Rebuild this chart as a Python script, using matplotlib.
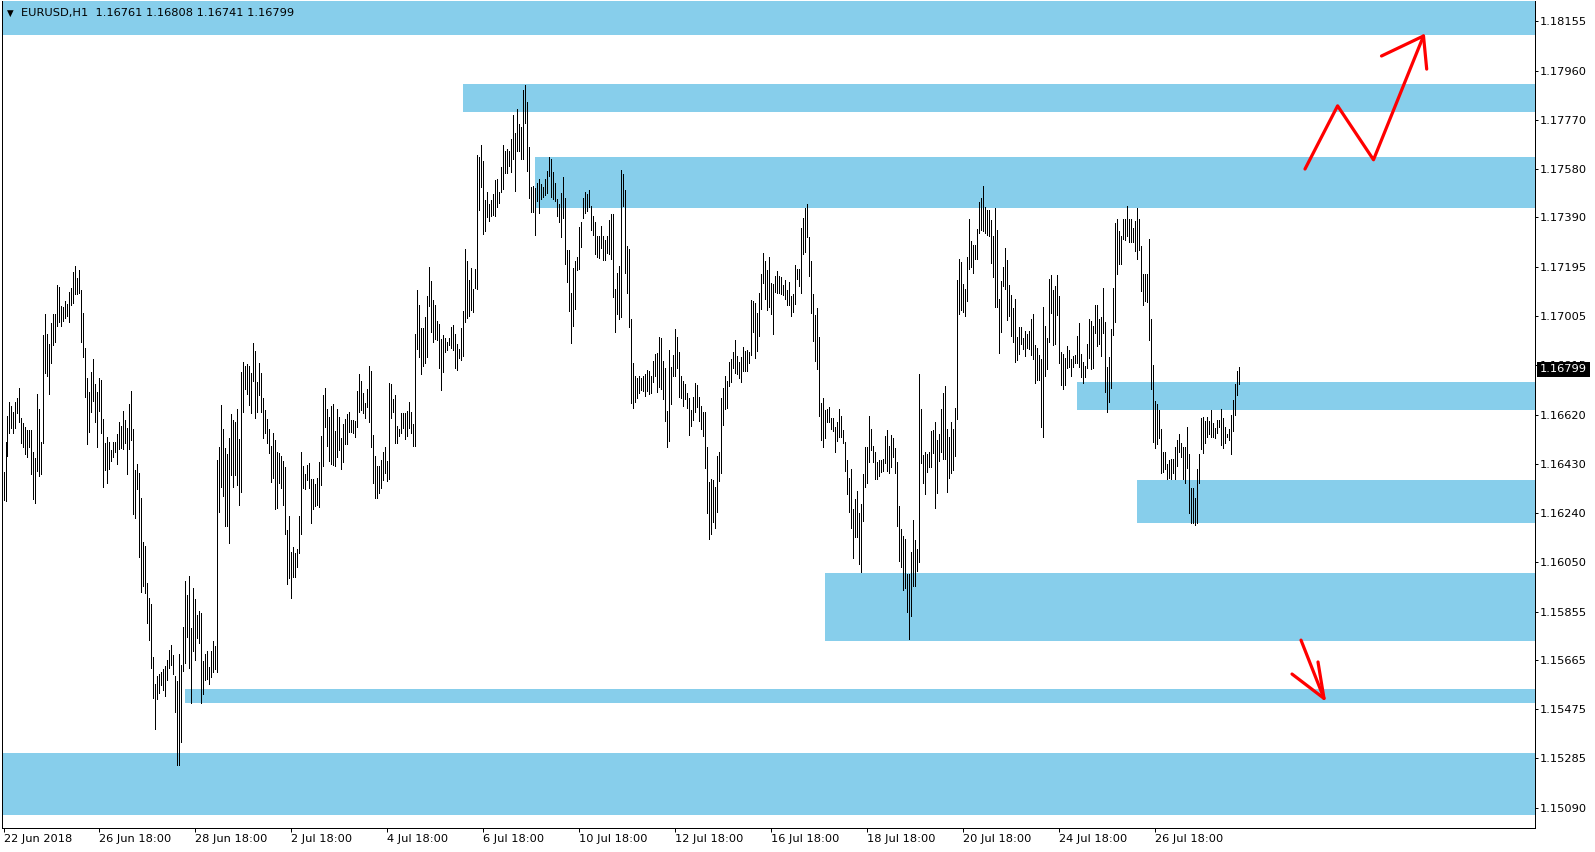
import matplotlib
matplotlib.use("Agg")
import matplotlib.pyplot as plt
import matplotlib.transforms as mtransforms
from matplotlib.patches import Rectangle
import numpy as np

matplotlib.rcParams["font.family"] = "DejaVu Sans"

W, H, DPI = 1595, 852, 100

# ── EURUSD H1 bars, one value per hour ──
highs = [
    1.16400, 1.16514, 1.16617, 1.16671, 1.16656, 1.16631, 1.16671, 1.16687, 1.16726, 1.16608,
    1.16591, 1.16574, 1.16562, 1.16562, 1.16562, 1.16477, 1.16453, 1.16702, 1.16644, 1.16514,
    1.16932, 1.17014, 1.16936, 1.16897, 1.16979, 1.17014, 1.17014, 1.17127, 1.17119, 1.17045,
    1.17042, 1.17064, 1.17051, 1.17101, 1.17114, 1.17179, 1.17201, 1.17155, 1.17185, 1.17107,
    1.17019, 1.16883, 1.16766, 1.16708, 1.16789, 1.16839, 1.16741, 1.16711, 1.16766, 1.16757,
    1.16605, 1.16510, 1.16534, 1.16516, 1.16484, 1.16514, 1.16514, 1.16545, 1.16595, 1.16579,
    1.16636, 1.16601, 1.16569, 1.16663, 1.16715, 1.16567, 1.16407, 1.16430, 1.16396, 1.16299,
    1.16126, 1.16111, 1.15968, 1.15907, 1.15886, 1.15680, 1.15573, 1.15605, 1.15612, 1.15621,
    1.15633, 1.15643, 1.15667, 1.15707, 1.15725, 1.15686, 1.15605, 1.15586, 1.15690, 1.15647,
    1.15797, 1.15974, 1.15920, 1.15994, 1.15793, 1.15948, 1.15906, 1.15842, 1.15858, 1.15849,
    1.15664, 1.15690, 1.15703, 1.15641, 1.15700, 1.15740, 1.15720, 1.16445, 1.16497, 1.16660,
    1.16566, 1.16492, 1.16469, 1.16530, 1.16625, 1.16601, 1.16593, 1.16644, 1.16527, 1.16789,
    1.16826, 1.16811, 1.16818, 1.16811, 1.16784, 1.16900, 1.16870, 1.16747, 1.16823, 1.16784,
    1.16686, 1.16640, 1.16605, 1.16567, 1.16501, 1.16551, 1.16523, 1.16477, 1.16471, 1.16461,
    1.16443, 1.16418, 1.16173, 1.16227, 1.16087, 1.16108, 1.16085, 1.16098, 1.16227, 1.16477,
    1.16422, 1.16391, 1.16426, 1.16432, 1.16372, 1.16372, 1.16352, 1.16374, 1.16439, 1.16539,
    1.16698, 1.16727, 1.16644, 1.16614, 1.16656, 1.16662, 1.16558, 1.16644, 1.16612, 1.16532,
    1.16587, 1.16605, 1.16625, 1.16631, 1.16601, 1.16601, 1.16597, 1.16714, 1.16780, 1.16753,
    1.16705, 1.16669, 1.16722, 1.16811, 1.16792, 1.16543, 1.16461, 1.16422, 1.16422, 1.16445,
    1.16477, 1.16495, 1.16442, 1.16744, 1.16741, 1.16684, 1.16698, 1.16578, 1.16565, 1.16627,
    1.16627, 1.16627, 1.16636, 1.16670, 1.16634, 1.16586, 1.16936, 1.17107, 1.17049, 1.16961,
    1.16958, 1.17000, 1.17084, 1.17196, 1.17142, 1.17068, 1.17049, 1.16987, 1.16974, 1.16917,
    1.16932, 1.16922, 1.16904, 1.16922, 1.16962, 1.16969, 1.16936, 1.16896, 1.16878, 1.16958,
    1.17026, 1.17266, 1.17220, 1.17146, 1.17192, 1.17110, 1.17188, 1.17633, 1.17623, 1.17672,
    1.17610, 1.17458, 1.17488, 1.17442, 1.17458, 1.17480, 1.17536, 1.17540, 1.17488, 1.17585,
    1.17672, 1.17649, 1.17656, 1.17649, 1.17694, 1.17789, 1.17717, 1.17812, 1.17752, 1.17743,
    1.17886, 1.17906, 1.17838, 1.17662, 1.17507, 1.17510, 1.17503, 1.17523, 1.17538, 1.17520,
    1.17507, 1.17540, 1.17571, 1.17623, 1.17617, 1.17565, 1.17523, 1.17462, 1.17442, 1.17486,
    1.17546, 1.17467, 1.17263, 1.17261, 1.17094, 1.17194, 1.17218, 1.17237, 1.17354, 1.17371,
    1.17467, 1.17488, 1.17481, 1.17497, 1.17434, 1.17397, 1.17370, 1.17318, 1.17318, 1.17358,
    1.17318, 1.17302, 1.17318, 1.17380, 1.17402, 1.17403, 1.17111, 1.17172, 1.17201, 1.17575,
    1.17560, 1.17496, 1.17278, 1.17267, 1.16994, 1.16824, 1.16772, 1.16766, 1.16772, 1.16763,
    1.16772, 1.16780, 1.16796, 1.16792, 1.16772, 1.16831, 1.16858, 1.16863, 1.16925, 1.16919,
    1.16831, 1.16805, 1.16636, 1.16874, 1.16806, 1.16854, 1.16955, 1.16925, 1.16864, 1.16772,
    1.16754, 1.16741, 1.16707, 1.16685, 1.16640, 1.16689, 1.16744, 1.16737, 1.16692, 1.16655,
    1.16631, 1.16631, 1.16497, 1.16361, 1.16371, 1.16367, 1.16341, 1.16462, 1.16478, 1.16685,
    1.16724, 1.16772, 1.16753, 1.16828, 1.16839, 1.16864, 1.16912, 1.16850, 1.16828, 1.16848,
    1.16884, 1.16870, 1.16874, 1.16864, 1.17068, 1.17064, 1.17055, 1.17019, 1.17094, 1.17169,
    1.17250, 1.17221, 1.17185, 1.17234, 1.17136, 1.17130, 1.17162, 1.17181, 1.17162, 1.17156,
    1.17127, 1.17146, 1.17107, 1.17137, 1.17084, 1.17092, 1.17204, 1.17187, 1.17189, 1.17347,
    1.17389, 1.17425, 1.17442, 1.17315, 1.17221, 1.17092, 1.17010, 1.17038, 1.16925, 1.16668,
    1.16685, 1.16640, 1.16644, 1.16650, 1.16610, 1.16610, 1.16575, 1.16594, 1.16644, 1.16616,
    1.16562, 1.16516, 1.16445, 1.16376, 1.16410, 1.16254, 1.16293, 1.16324, 1.16240, 1.16274,
    1.16391, 1.16497, 1.16497, 1.16616, 1.16566, 1.16500, 1.16475, 1.16436, 1.16445, 1.16445,
    1.16449, 1.16538, 1.16562, 1.16500, 1.16542, 1.16532, 1.16493, 1.16436, 1.16266, 1.16176,
    1.16149, 1.16136, 1.16001, 1.16001, 1.16086, 1.16212, 1.16134, 1.16097, 1.16780, 1.16644,
    1.16464, 1.16477, 1.16468, 1.16477, 1.16559, 1.16562, 1.16592, 1.16523, 1.16545, 1.16644,
    1.16707, 1.16733, 1.16564, 1.16536, 1.16592, 1.16566, 1.16649, 1.17146, 1.17227, 1.17215,
    1.17130, 1.17111, 1.17237, 1.17382, 1.17299, 1.17282, 1.17282, 1.17344, 1.17451, 1.17464,
    1.17512, 1.17431, 1.17418, 1.17418, 1.17379, 1.17317, 1.17427, 1.17340, 1.17072, 1.17142,
    1.17198, 1.17269, 1.17224, 1.17126, 1.17087, 1.17038, 1.17072, 1.16925, 1.16964, 1.16964,
    1.16921, 1.16947, 1.16934, 1.16948, 1.16994, 1.17013, 1.16893, 1.16880, 1.16854, 1.16838,
    1.17042, 1.16967, 1.16921, 1.17150, 1.17165, 1.17107, 1.17122, 1.17165, 1.17083, 1.16864,
    1.16858, 1.16843, 1.16890, 1.16873, 1.16837, 1.16851, 1.16854, 1.16929, 1.16979, 1.16856,
    1.16828, 1.16812, 1.16896, 1.16994, 1.16987, 1.16967, 1.17048, 1.17048, 1.16996, 1.17003,
    1.17113, 1.16983, 1.16808, 1.16845, 1.16954, 1.17116, 1.17366, 1.17382, 1.17336, 1.17318,
    1.17382, 1.17382, 1.17434, 1.17382, 1.17382, 1.17349, 1.17375, 1.17425, 1.17382, 1.17279,
    1.17169, 1.17169, 1.17169, 1.17305, 1.16994, 1.16815, 1.16676, 1.16663, 1.16640, 1.16566,
    1.16475, 1.16475, 1.16428, 1.16445, 1.16448, 1.16448, 1.16497, 1.16523, 1.16546, 1.16510,
    1.16494, 1.16497, 1.16572, 1.16467, 1.16337, 1.16337, 1.16298, 1.16412, 1.16468, 1.16610,
    1.16614, 1.16597, 1.16614, 1.16598, 1.16640, 1.16590, 1.16571, 1.16601, 1.16601, 1.16643,
    1.16610, 1.16572, 1.16546, 1.16566, 1.16620, 1.16680, 1.16740, 1.16790, 1.16808,
]
lows = [
    1.16290, 1.16287, 1.16462, 1.16552, 1.16571, 1.16552, 1.16571, 1.16627, 1.16595, 1.16510,
    1.16495, 1.16468, 1.16456, 1.16497, 1.16390, 1.16292, 1.16279, 1.16403, 1.16384, 1.16390,
    1.16510, 1.16785, 1.16774, 1.16704, 1.16821, 1.16894, 1.16906, 1.16965, 1.16981, 1.16967,
    1.16988, 1.16997, 1.17007, 1.16984, 1.17049, 1.17055, 1.17092, 1.17090, 1.17094, 1.16906,
    1.16845, 1.16689, 1.16506, 1.16556, 1.16634, 1.16676, 1.16595, 1.16495, 1.16636, 1.16552,
    1.16342, 1.16407, 1.16355, 1.16409, 1.16443, 1.16455, 1.16477, 1.16431, 1.16488, 1.16491,
    1.16488, 1.16510, 1.16390, 1.16488, 1.16523, 1.16234, 1.16221, 1.16331, 1.16069, 1.15933,
    1.15955, 1.15929, 1.15810, 1.15743, 1.15634, 1.15518, 1.15398, 1.15514, 1.15537, 1.15570,
    1.15550, 1.15528, 1.15589, 1.15634, 1.15647, 1.15612, 1.15466, 1.15258, 1.15258, 1.15346,
    1.15625, 1.15654, 1.15758, 1.15634, 1.15498, 1.15702, 1.15667, 1.15751, 1.15734, 1.15501,
    1.15534, 1.15589, 1.15592, 1.15572, 1.15600, 1.15620, 1.15630, 1.15620, 1.16244, 1.16342,
    1.16307, 1.16188, 1.16188, 1.16121, 1.16385, 1.16342, 1.16385, 1.16346, 1.16270, 1.16322,
    1.16634, 1.16723, 1.16702, 1.16660, 1.16630, 1.16754, 1.16610, 1.16634, 1.16698, 1.16634,
    1.16532, 1.16552, 1.16513, 1.16474, 1.16361, 1.16377, 1.16253, 1.16260, 1.16355, 1.16338,
    1.16270, 1.16156, 1.15961, 1.15987, 1.15907, 1.15991, 1.15991, 1.16030, 1.16085, 1.16156,
    1.16338, 1.16331, 1.16368, 1.16335, 1.16199, 1.16253, 1.16266, 1.16270, 1.16261, 1.16346,
    1.16423, 1.16573, 1.16501, 1.16443, 1.16430, 1.16426, 1.16423, 1.16458, 1.16484, 1.16412,
    1.16436, 1.16506, 1.16508, 1.16556, 1.16556, 1.16549, 1.16536, 1.16575, 1.16634, 1.16638,
    1.16627, 1.16608, 1.16653, 1.16595, 1.16495, 1.16355, 1.16299, 1.16299, 1.16318, 1.16338,
    1.16368, 1.16396, 1.16365, 1.16372, 1.16610, 1.16631, 1.16513, 1.16513, 1.16540, 1.16549,
    1.16569, 1.16526, 1.16540, 1.16571, 1.16549, 1.16498, 1.16498, 1.16876, 1.16848, 1.16779,
    1.16813, 1.16822, 1.16848, 1.17043, 1.16943, 1.16906, 1.16917, 1.16913, 1.16802, 1.16716,
    1.16789, 1.16865, 1.16874, 1.16891, 1.16883, 1.16874, 1.16802, 1.16796, 1.16841, 1.16835,
    1.16851, 1.16982, 1.16997, 1.17004, 1.17030, 1.17020, 1.17114, 1.17111, 1.17419, 1.17507,
    1.17325, 1.17335, 1.17390, 1.17377, 1.17396, 1.17399, 1.17397, 1.17432, 1.17445, 1.17488,
    1.17501, 1.17564, 1.17562, 1.17588, 1.17566, 1.17616, 1.17493, 1.17649, 1.17650, 1.17617,
    1.17617, 1.17759, 1.17572, 1.17467, 1.17409, 1.17412, 1.17322, 1.17455, 1.17406, 1.17462,
    1.17468, 1.17477, 1.17484, 1.17549, 1.17468, 1.17462, 1.17455, 1.17396, 1.17370, 1.17315,
    1.17389, 1.17207, 1.17140, 1.17027, 1.16900, 1.16965, 1.17033, 1.17185, 1.17188, 1.17276,
    1.17389, 1.17406, 1.17416, 1.17429, 1.17341, 1.17322, 1.17246, 1.17237, 1.17233, 1.17272,
    1.17224, 1.17222, 1.17250, 1.17248, 1.17227, 1.17078, 1.16945, 1.17014, 1.16993, 1.17003,
    1.17434, 1.17175, 1.17097, 1.16964, 1.16668, 1.16649, 1.16672, 1.16688, 1.16707, 1.16718,
    1.16714, 1.16696, 1.16715, 1.16702, 1.16705, 1.16750, 1.16772, 1.16709, 1.16731, 1.16722,
    1.16683, 1.16598, 1.16495, 1.16521, 1.16662, 1.16774, 1.16774, 1.16805, 1.16692, 1.16688,
    1.16655, 1.16683, 1.16646, 1.16543, 1.16578, 1.16601, 1.16634, 1.16653, 1.16598, 1.16565,
    1.16540, 1.16415, 1.16240, 1.16136, 1.16156, 1.16205, 1.16179, 1.16244, 1.16365, 1.16393,
    1.16582, 1.16644, 1.16649, 1.16735, 1.16750, 1.16805, 1.16783, 1.16780, 1.16766, 1.16750,
    1.16793, 1.16792, 1.16793, 1.16822, 1.16854, 1.16945, 1.16844, 1.16871, 1.16929, 1.17033,
    1.17136, 1.17072, 1.17029, 1.17040, 1.17014, 1.16936, 1.17098, 1.17097, 1.17094, 1.17092,
    1.17088, 1.17072, 1.17049, 1.17049, 1.17006, 1.17023, 1.17053, 1.17149, 1.17123, 1.17097,
    1.17247, 1.17254, 1.17315, 1.17161, 1.17019, 1.16908, 1.16832, 1.16798, 1.16618, 1.16525,
    1.16494, 1.16529, 1.16594, 1.16594, 1.16564, 1.16558, 1.16478, 1.16520, 1.16536, 1.16536,
    1.16510, 1.16403, 1.16311, 1.16244, 1.16182, 1.16062, 1.16147, 1.16147, 1.16039, 1.16010,
    1.16209, 1.16342, 1.16357, 1.16439, 1.16484, 1.16439, 1.16370, 1.16370, 1.16383, 1.16400,
    1.16403, 1.16435, 1.16403, 1.16393, 1.16419, 1.16458, 1.16393, 1.16189, 1.16053, 1.16030,
    1.15941, 1.15945, 1.15852, 1.15747, 1.15839, 1.15955, 1.15955, 1.16013, 1.16049, 1.16435,
    1.16357, 1.16311, 1.16400, 1.16419, 1.16419, 1.16474, 1.16257, 1.16315, 1.16442, 1.16477,
    1.16451, 1.16451, 1.16322, 1.16374, 1.16396, 1.16406, 1.16462, 1.16603, 1.17013, 1.17029,
    1.17022, 1.17007, 1.17065, 1.17187, 1.17198, 1.17172, 1.17226, 1.17228, 1.17327, 1.17340,
    1.17338, 1.17327, 1.17321, 1.17318, 1.17213, 1.17156, 1.17039, 1.17039, 1.16860, 1.16945,
    1.17124, 1.17111, 1.16990, 1.17005, 1.16928, 1.16906, 1.16828, 1.16834, 1.16856, 1.16895,
    1.16877, 1.16851, 1.16883, 1.16877, 1.16854, 1.16837, 1.16746, 1.16756, 1.16756, 1.16572,
    1.16536, 1.16773, 1.16799, 1.16906, 1.17016, 1.16893, 1.16895, 1.17009, 1.16821, 1.16737,
    1.16721, 1.16737, 1.16804, 1.16806, 1.16773, 1.16808, 1.16824, 1.16821, 1.16806, 1.16767,
    1.16746, 1.16767, 1.16804, 1.16841, 1.16799, 1.16802, 1.16941, 1.16890, 1.16895, 1.16851,
    1.16941, 1.16711, 1.16633, 1.16672, 1.16724, 1.16932, 1.16983, 1.17169, 1.17208, 1.17208,
    1.17304, 1.17301, 1.17318, 1.17292, 1.17295, 1.17295, 1.17260, 1.17227, 1.17262, 1.17104,
    1.17048, 1.17064, 1.17059, 1.16912, 1.16721, 1.16514, 1.16490, 1.16507, 1.16532, 1.16396,
    1.16400, 1.16410, 1.16371, 1.16377, 1.16373, 1.16396, 1.16370, 1.16421, 1.16477, 1.16458,
    1.16370, 1.16354, 1.16416, 1.16240, 1.16199, 1.16199, 1.16192, 1.16199, 1.16357, 1.16488,
    1.16471, 1.16510, 1.16533, 1.16546, 1.16536, 1.16533, 1.16529, 1.16551, 1.16572, 1.16503,
    1.16493, 1.16513, 1.16536, 1.16523, 1.16470, 1.16560, 1.16620, 1.16700, 1.16741,
]

last_ohlc = [1.16761, 1.16808, 1.16741, 1.16799]

date_labels = ["22 Jun 2018", "26 Jun 18:00", "28 Jun 18:00", "2 Jul 18:00", "4 Jul 18:00",
               "6 Jul 18:00", "10 Jul 18:00", "12 Jul 18:00", "16 Jul 18:00", "18 Jul 18:00",
               "20 Jul 18:00", "24 Jul 18:00", "26 Jul 18:00"]
bars_per_label = 48

price_ticks = [1.18155, 1.17960, 1.17770, 1.17580, 1.17390, 1.17195, 1.17005, 1.16815,
               1.16620, 1.16430, 1.16240, 1.16050, 1.15855, 1.15665, 1.15475, 1.15285, 1.15090]

# supply / demand rectangles: first bar, lower price, upper price
zone_start = [-5, 229.8, 265.9, 536.9, 566.9, 410.9, 90.9, -5]
zone_low = [1.18098, 1.17800, 1.17427, 1.16640, 1.16201, 1.15742, 1.15500, 1.15063]
zone_high = [1.18300, 1.17909, 1.17625, 1.16749, 1.16367, 1.16006, 1.15554, 1.15306]

# hand-drawn red arrows (bar index, price)
zig_x = [650.75, 667.05, 685.0, 710.0]
zig_y = [1.17578, 1.17824, 1.17614, 1.18096]
zig_head_x = [689.0, 710.0, 711.6]
zig_head_y = [1.18018, 1.18096, 1.17967]
down_x = [648.75, 660.25]
down_y = [1.15744, 1.15517]
down_head_x = [644.25, 660.25, 657.25]
down_head_y = [1.15612, 1.15517, 1.15659]

C = {"zone": "#87CEEB", "bar": "#000000", "red": "#FF0000", "text": "#000000"}
FS = 8.2

# ── figure / axes in pixel layout ──
fig = plt.figure(figsize=(W / DPI, H / DPI), dpi=DPI)
fig.patch.set_facecolor("white")
ax_l, ax_r, ax_t, ax_b = 2, 1535, 1, 828
ax = fig.add_axes([ax_l / W, 1 - ax_b / H, (ax_r - ax_l) / W, (ax_b - ax_t) / H])
ax.set_facecolor("white")
ax.set_xlim(-0.75, 765.75)
ax.set_ylim(1.150126, 1.182321)

n = min(len(highs), len(lows))
idx = np.arange(n)

# zones behind the bars
x_right = ax.get_xlim()[1] + 5
for xs, lo, hi in zip(zone_start, zone_low, zone_high):
    ax.add_patch(Rectangle((xs, lo), x_right - xs, hi - lo, facecolor=C["zone"],
                           edgecolor="none", zorder=1))

ax.vlines(idx, np.array(lows[:n]), np.array(highs[:n]), colors=C["bar"],
          linewidth=0.72, antialiased=False, zorder=2)

# red arrows
lw_red = 2.3
for xs, ys in [(zig_x, zig_y), (zig_head_x, zig_head_y),
               (down_x, down_y), (down_head_x, down_head_y)]:
    ax.plot(xs, ys, color=C["red"], lw=lw_red, solid_capstyle="round",
            solid_joinstyle="round", zorder=4)

# frame
for side in ["left", "right", "bottom"]:
    ax.spines[side].set_color("black")
    ax.spines[side].set_linewidth(0.72)
ax.spines["top"].set_visible(False)

# price axis on the right
ax.yaxis.tick_right()
ax.set_yticks(price_ticks)
ax.set_yticklabels([f"{p:.5f}" for p in price_ticks])
ax.tick_params(axis="y", direction="out", length=2.2, width=0.72, pad=1.5,
               labelsize=FS, colors=C["text"])

# time axis
ax.set_xticks(np.arange(len(date_labels)) * bars_per_label)
ax.set_xticklabels(date_labels, ha="left")
ax.tick_params(axis="x", direction="out", length=3.0, width=0.72, pad=1.2,
               labelsize=FS, colors=C["text"])

# current price label
trans = mtransforms.blended_transform_factory(ax.transAxes, ax.transData)
ax.text(1 + 5.0 / (ax_r - ax_l), last_ohlc[3], f"{last_ohlc[3]:.5f}", transform=trans,
        ha="left", va="center", fontsize=FS, color="white", zorder=10, clip_on=False,
        bbox=dict(boxstyle="square,pad=0.22", facecolor="black", edgecolor="none"))

# chart header
fig.text(7 / W, 1 - 13 / H, "\u25BC", fontsize=6.2, ha="left", va="center", color="black")
fig.text(21 / W, 1 - 13 / H, "EURUSD,H1  " + " ".join(f"{v:.5f}" for v in last_ohlc),
         fontsize=FS, ha="left", va="center", color="black")

fig.savefig("out.png", dpi=DPI, facecolor="white")
